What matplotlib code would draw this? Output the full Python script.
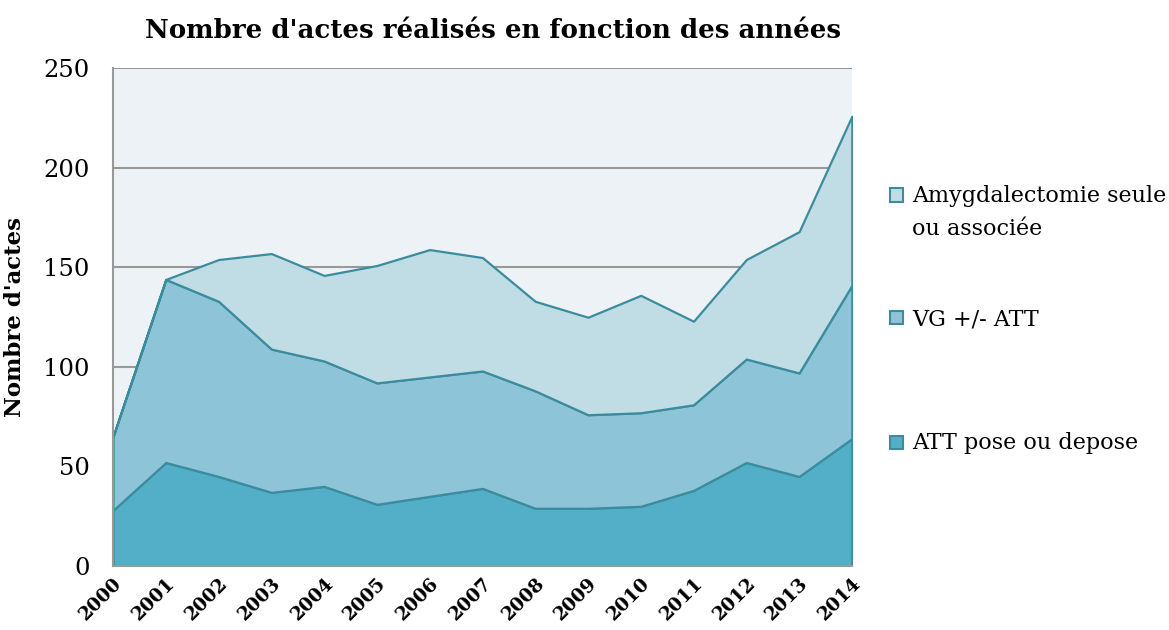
import matplotlib
matplotlib.use('Agg')
import matplotlib.pyplot as plt
from matplotlib.patches import Rectangle

# données
annees = list(range(2000, 2015))
att = [28, 52, 45, 37, 40, 31, 35, 39, 29, 29, 30, 38, 52, 45, 64]
vg = [37, 92, 88, 72, 63, 61, 60, 59, 59, 47, 47, 43, 52, 52, 77]
amyg = [0, 0, 21, 48, 43, 59, 64, 57, 45, 49, 59, 42, 50, 71, 85]
noms = ['ATT pose ou depose', 'VG +/- ATT', 'Amygdalectomie seule\nou associée']
couleurs = ['#53aec7', '#8dc4d7', '#c0dde6']
bord = '#3b8c9c'

plt.rcParams['font.family'] = ['DejaVu Serif']

fig = plt.figure(figsize=(11.69, 6.3), dpi=100)
ax = fig.add_axes([0.0967, 0.1016, 0.632, 0.7897])
ax.set_facecolor('#edf2f6')

ax.stackplot(annees, att, vg, amyg, colors=couleurs, edgecolor=bord, linewidth=1.6, zorder=3)

ax.set_xlim(2000, 2014)
ax.set_ylim(0, 250)
ax.set_yticks(range(0, 251, 50))
ax.set_xticks(annees)
ax.set_xticklabels([str(a) for a in annees], rotation=45, ha='right', va='top',
                   rotation_mode='anchor', fontweight='bold', fontsize=13.5)
ax.tick_params(axis='y', labelsize=17.5, length=0, pad=17)
ax.tick_params(axis='x', length=0, pad=6)
ax.grid(axis='y', color='#999999', linewidth=1.5, zorder=1)
ax.set_axisbelow(True)
for s in ['top', 'right']:
    ax.spines[s].set_visible(False)
for s in ['left', 'bottom']:
    ax.spines[s].set_color('#999999')
    ax.spines[s].set_linewidth(1.5)
    ax.spines[s].set_zorder(4)

ax.set_ylabel("Nombre d'actes", fontweight='bold', fontsize=16.5, labelpad=12)
fig.text(0.422, 0.951, "Nombre d'actes réalisés en fonction des années", fontweight='bold',
         fontsize=18.7, ha='center', va='center')

# légende placée à la main (carré aligné sur la première ligne)
W, H = 1169, 630
pos_y = [195, 318, 442]
for i, k in enumerate([2, 1, 0]):
    y = pos_y[i]
    fig.patches.append(Rectangle((890 / W, 1 - (y + 6.5) / H), 13 / W, 13 / H,
                                 transform=fig.transFigure, facecolor=couleurs[k],
                                 edgecolor=bord, linewidth=1.5))
    for j, ligne in enumerate(noms[k].split('\n')):
        fig.text(912 / W, 1 - (y + 7 + 33 * j) / H, ligne, fontsize=16,
                 ha='left', va='baseline')

fig.savefig('out.png', dpi=100)
